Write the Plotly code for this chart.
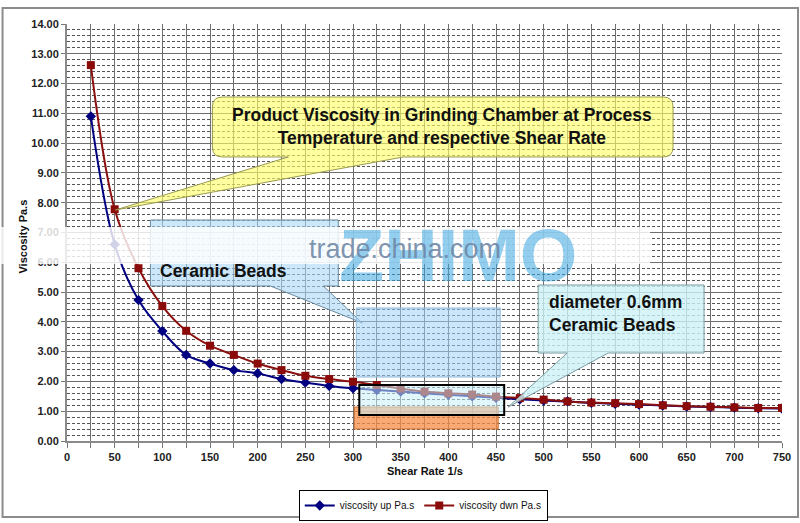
import plotly.graph_objects as go

# ---------------- data ----------------
shear_rate = [25, 50, 75, 100, 125, 150, 175, 200, 225, 250,
              275, 300, 325, 350, 375, 400, 425, 450, 475, 500,
              525, 550, 575, 600, 625, 650, 675, 700, 725, 750]
visc_up = [10.90, 6.60, 4.73, 3.69, 2.89, 2.60, 2.38, 2.27, 2.08, 1.96,
           1.85, 1.77, 1.71, 1.66, 1.60, 1.55, 1.50, 1.45, 1.40, 1.36,
           1.33, 1.28, 1.25, 1.22, 1.19, 1.16, 1.14, 1.12, 1.10, 1.09]
visc_dwn = [12.62, 7.78, 5.80, 4.53, 3.70, 3.20, 2.89, 2.60, 2.38, 2.19,
            2.08, 1.99, 1.88, 1.76, 1.66, 1.60, 1.56, 1.49, 1.44, 1.39,
            1.33, 1.29, 1.27, 1.24, 1.20, 1.17, 1.15, 1.13, 1.11, 1.11]
series_names = ["viscosity up Pa.s", "viscosity dwn Pa.s"]
x_title = "Shear Rate 1/s"
y_title = "Viscosity Pa.s"
callout_main = "Product Viscosity in Grinding Chamber at Process<br>Temperature and respective Shear Rate"
callout_beads = "diameter 0.6mm<br>Ceramic Beads"
callout_beads2 = "Ceramic Beads"

# ---------------- layout geometry (pixels) ----------------
WIDTH, HEIGHT = 800, 523
ML, MR, MT, MB = 66.5, 18, 24, 82
PW = WIDTH - ML - MR
PH = HEIGHT - MT - MB
FONT = "Liberation Sans, Arial, sans-serif"


def px(x):
    return (x - ML) / PW


def py(y):
    return (HEIGHT - MB - y) / PH


def path_from(points, closed=True):
    s = ""
    for i, p in enumerate(points):
        if p[0] == "Q":
            s += " Q %.5f %.5f %.5f %.5f" % (px(p[1]), py(p[2]), px(p[3]), py(p[4]))
        else:
            s += ("M" if i == 0 else " L") + " %.5f %.5f" % (px(p[0]), py(p[1]))
    return s + (" Z" if closed else "")


def callout(x0, y0, x1, y1, r, base_r, tip, base_l):
    pts = [(x0 + r, y0), (x1 - r, y0)]
    if r:
        pts.append(("Q", x1, y0, x1, y0 + r))
    pts.append((x1, y1 - r))
    if r:
        pts.append(("Q", x1, y1, x1 - r, y1))
    pts += [(base_r, y1), tip, (base_l, y1), (x0 + r, y1)]
    if r:
        pts.append(("Q", x0, y1, x0, y1 - r))
    pts.append((x0, y0 + r))
    if r:
        pts.append(("Q", x0, y0, x0 + r, y0))
    return path_from(pts)


def note(text, x, y, size, xanchor="center", align="center", angle=0,
         color="#111", weight="bold"):
    return dict(text=text, x=px(x), y=py(y), xref="paper", yref="paper",
                xanchor=xanchor, yanchor="middle", showarrow=False, align=align,
                textangle=angle,
                font=dict(family=FONT, size=size, color=color, weight=weight))


fig = go.Figure()
fig.add_trace(go.Scatter(
    x=shear_rate, y=visc_up, name=series_names[0], mode="lines+markers",
    line=dict(color="#000080", width=2, shape="spline"),
    marker=dict(symbol="diamond", size=8, color="#000080")))
fig.add_trace(go.Scatter(
    x=shear_rate, y=visc_dwn, name=series_names[1], mode="lines+markers",
    line=dict(color="#8B1010", width=2, shape="spline"),
    marker=dict(symbol="square", size=8, color="#8B0A0A")))

shapes = []
# outer chart frame
shapes.append(dict(type="rect", xref="paper", yref="paper",
                   x0=px(2), x1=px(798), y0=py(8), y1=py(517),
                   line=dict(color="#8c8c8c", width=2), layer="below"))
# yellow callout
shapes.append(dict(type="path", xref="paper", yref="paper",
                   path=callout(212, 97, 673, 157, 10, 403, (115, 210), 288),
                   fillcolor="rgba(255,255,100,0.62)",
                   line=dict(color="#9a9a50", width=1)))
# light blue 'Ceramic Beads' callout (partly hidden)
shapes.append(dict(type="path", xref="paper", yref="paper",
                   path=callout(150, 220, 338, 286, 0, 323, (362, 323), 270),
                   fillcolor="rgba(170,215,245,0.6)",
                   line=dict(color="#6a8aa0", width=1)))
# light blue rectangle
shapes.append(dict(type="rect", xref="paper", yref="paper",
                   x0=px(356), x1=px(500), y0=py(377), y1=py(308),
                   fillcolor="rgba(160,210,245,0.55)",
                   line=dict(color="#8fb8d8", width=1)))
# orange rectangle
shapes.append(dict(type="rect", xref="paper", yref="paper",
                   x0=px(354), x1=px(498), y0=py(429), y1=py(407),
                   fillcolor="rgba(245,140,70,0.75)",
                   line=dict(color="#d07030", width=1)))
# black outlined box
shapes.append(dict(type="rect", xref="paper", yref="paper",
                   x0=px(359), x1=px(504), y0=py(415), y1=py(385),
                   fillcolor="rgba(200,240,250,0.55)",
                   line=dict(color="#000000", width=2)))
# cyan callout
shapes.append(dict(type="path", xref="paper", yref="paper",
                   path=callout(538, 285, 704, 353, 0, 608, (508, 407), 567),
                   fillcolor="rgba(205,243,247,0.8)",
                   line=dict(color="#7a9aa0", width=1)))
# watermark haze band
shapes.append(dict(type="rect", xref="paper", yref="paper",
                   x0=px(0), x1=px(650), y0=py(264), y1=py(227),
                   fillcolor="rgba(255,255,255,0.82)", line=dict(width=0)))

annotations = [
    note(callout_main, 442, 126, 17.5),
    note(callout_beads, 547, 313, 17.5, xanchor="left", align="left"),
    note(callout_beads2, 158, 271, 17.5, xanchor="left", align="left"),
    note("ZHIMO", 458, 255, 74, color="rgba(60,165,225,0.55)"),
    note("trade.china.com", 405, 249, 27, color="rgba(110,135,165,0.9)", weight="normal"),
    note(x_title, 425, 471, 11),
    note(y_title, 22, 237, 11, angle=-90),
]

fig.update_layout(
    width=WIDTH, height=HEIGHT,
    margin=dict(l=ML, r=MR, t=MT, b=MB, autoexpand=False),
    paper_bgcolor="white", plot_bgcolor="white",
    shapes=shapes, annotations=annotations,
    showlegend=True,
    legend=dict(orientation="h", x=px(423), xanchor="center", y=py(490), yanchor="top",
                bordercolor="#000", borderwidth=1, bgcolor="white",
                font=dict(family=FONT, size=10, color="#111"),
                itemwidth=30, tracegroupgap=0),
    xaxis=dict(range=[0, 750], dtick=50, tick0=0, showgrid=True,
               gridcolor="#6e6e6e", gridwidth=1.3,
               minor=dict(dtick=25, showgrid=True, gridcolor="#6e6e6e", gridwidth=1.3,
                          ticks="outside", ticklen=5, tickcolor="#777"),
               ticks="outside", ticklen=5, tickcolor="#777",
               showline=True, linecolor="#8a8a8a", linewidth=2,
               tickfont=dict(family=FONT, size=11, color="#222", weight="bold"),
               zeroline=False, fixedrange=True, automargin=False),
    yaxis=dict(range=[0, 14], dtick=1, tick0=0, tickformat=".2f", showgrid=True,
               gridcolor="#6e6e6e", gridwidth=1.3,
               minor=dict(dtick=0.2, showgrid=True, gridcolor="#555", gridwidth=1,
                          griddash="3px,2px"),
               ticks="outside", ticklen=4, tickcolor="#777",
               showline=True, linecolor="#8a8a8a", linewidth=2,
               tickfont=dict(family=FONT, size=11, color="#222", weight="bold"),
               zeroline=False, fixedrange=True, automargin=False),
)

fig.write_html("out.html")
